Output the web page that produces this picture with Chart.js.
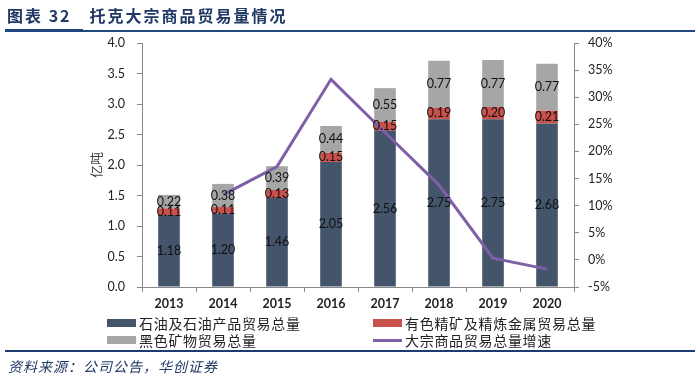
<!DOCTYPE html>
<html><head><meta charset="utf-8">
<script src="https://cdn.jsdelivr.net/npm/chart.js@4/dist/chart.umd.min.js"></script>
<style>
html,body{margin:0;padding:0;background:#fff;width:700px;height:381px;overflow:hidden;}
#wrap{position:relative;width:700px;height:381px;font-family:"Noto Sans CJK SC",sans-serif;}
#c{position:absolute;left:0;top:0;}
.t{position:absolute;white-space:nowrap;}
#title{left:7px;top:3px;font-size:16px;font-weight:bold;color:#1F3864;letter-spacing:2px;}
#title span{margin-left:18px;}
#hl1{position:absolute;left:5px;top:30px;width:690px;height:2px;background:#1F497D;}
#hl1b{position:absolute;left:5px;top:29px;width:78px;height:3px;background:#1F497D;}
#hl2{position:absolute;left:5px;top:350px;width:690px;height:2px;background:#1F3C72;}
#src{left:8px;top:356px;font-size:14px;font-style:italic;color:#1F3864;letter-spacing:1px;}
.lg{position:absolute;font-size:14px;color:#222;line-height:16px;letter-spacing:0.7px;}
.box{position:absolute;width:29px;height:8px;}
.ln{position:absolute;width:29px;height:3px;}
</style></head>
<body><div id="wrap">
<canvas id="c" width="700" height="381"></canvas>
<div class="t" id="title">图表 32<span>托克大宗商品贸易量情况</span></div>
<div id="hl1"></div><div id="hl1b"></div>
<div id="hl2"></div>
<div class="t" id="src">资料来源：公司公告，华创证券</div>
<div id="legend"></div>
</div>
<script>
const categories = ['2013','2014','2015','2016','2017','2018','2019','2020'];
const oilVolume = [1.18, 1.20, 1.46, 2.05, 2.56, 2.75, 2.75, 2.68];
const nonferrousVolume = [0.11, 0.11, 0.13, 0.15, 0.15, 0.19, 0.20, 0.21];
const ferrousVolume = [0.22, 0.38, 0.39, 0.44, 0.55, 0.77, 0.77, 0.77];
const totalGrowth = [null, 12.0, 17.2, 33.3, 23.5, 13.8, 0.3, -1.7];
const leftTicks = [0, 0.5, 1.0, 1.5, 2.0, 2.5, 3.0, 3.5, 4.0];
const rightTicks = [-5, 0, 5, 10, 15, 20, 25, 30, 35, 40];
const seriesNames = ['石油及石油产品贸易总量','有色精矿及精炼金属贸易总量','黑色矿物贸易总量','大宗商品贸易总量增速'];
const colors = ['#44546A','#C9504B','#A6A6A6','#7F5FA6'];

// HTML legend
const lg = document.getElementById('legend');
const pos = [[107,319],[373,319],[107,336],[373,336]];
seriesNames.forEach((n,i)=>{
  const [x,y]=pos[i];
  const m=document.createElement('div');
  if(i<3){m.className='box';m.style.left=x+'px';m.style.top=y+'px';}
  else{m.className='ln';m.style.left=x+'px';m.style.top=(y+3)+'px';}
  m.style.background=colors[i];
  lg.appendChild(m);
  const t=document.createElement('div');
  t.className='lg';t.textContent=n;t.style.left=(x+32)+'px';t.style.top=(y-4)+'px';
  lg.appendChild(t);
});

const labelPlugin = {
  id:'barLabels',
  afterDatasetsDraw(chart){
    const ctx=chart.ctx;
    ctx.save();
    ctx.font='12.5px Lato, "Liberation Sans", sans-serif';
    ctx.fillStyle='#111';
    ctx.textAlign='center';ctx.textBaseline='middle';
    chart.data.datasets.forEach((ds,di)=>{
      if(ds.type==='line')return;
      const meta=chart.getDatasetMeta(di);
      meta.data.forEach((el,i)=>{
        const v=ds.data[i];
        ctx.fillText(v.toFixed(2), el.x, (el.y+el.base)/2);
      });
    });
    ctx.restore();
  }
};

const grid={display:true,drawOnChartArea:false,drawTicks:true,tickLength:5,color:'#888'};
new Chart(document.getElementById('c'),{
  data:{labels:categories,datasets:[
    {type:'line',label:seriesNames[3],data:totalGrowth,yAxisID:'y1',borderColor:colors[3],borderWidth:3,pointRadius:0,tension:0,order:0},
    {type:'bar',label:seriesNames[0],data:oilVolume,backgroundColor:colors[0],yAxisID:'y',order:1},
    {type:'bar',label:seriesNames[1],data:nonferrousVolume,backgroundColor:colors[1],yAxisID:'y',order:1},
    {type:'bar',label:seriesNames[2],data:ferrousVolume,backgroundColor:colors[2],yAxisID:'y',order:1}
  ]},
  options:{
    responsive:false,animation:false,
    layout:{padding:{left:88,right:0,top:43,bottom:64}},
    datasets:{bar:{categoryPercentage:1,barPercentage:0.4}},
    plugins:{legend:{display:false},tooltip:{enabled:false}},
    scales:{
      x:{stacked:true,grid:{...grid,offset:true},border:{display:true,color:'#888'},
         ticks:{color:'#222',font:{family:'Lato',size:12.5,weight:'bold'},padding:4,maxRotation:0},
         afterFit(s){s.height=30;}},
      y:{stacked:true,position:'left',min:0,max:4,
         afterBuildTicks(s){s.ticks=leftTicks.map(v=>({value:v}));},
         grid:grid,border:{display:true,color:'#888'},
         ticks:{color:'#222',font:{family:'Lato',size:12.5},padding:12,callback:v=>v.toFixed(1)},
         title:{display:true,text:'亿吨',color:'#444',font:{family:'"Noto Sans CJK SC"',size:13},padding:0},
         afterFit(s){s.width=54;}},
      y1:{position:'right',min:-5,max:40,
         afterBuildTicks(s){s.ticks=rightTicks.map(v=>({value:v}));},
         grid:grid,border:{display:true,color:'#888'},
         ticks:{color:'#222',font:{family:'Lato',size:12.5},padding:9,callback:v=>v+'%'},
         afterFit(s){s.width=126;}}
    }
  },
  plugins:[labelPlugin]
});
</script>
</body></html>
